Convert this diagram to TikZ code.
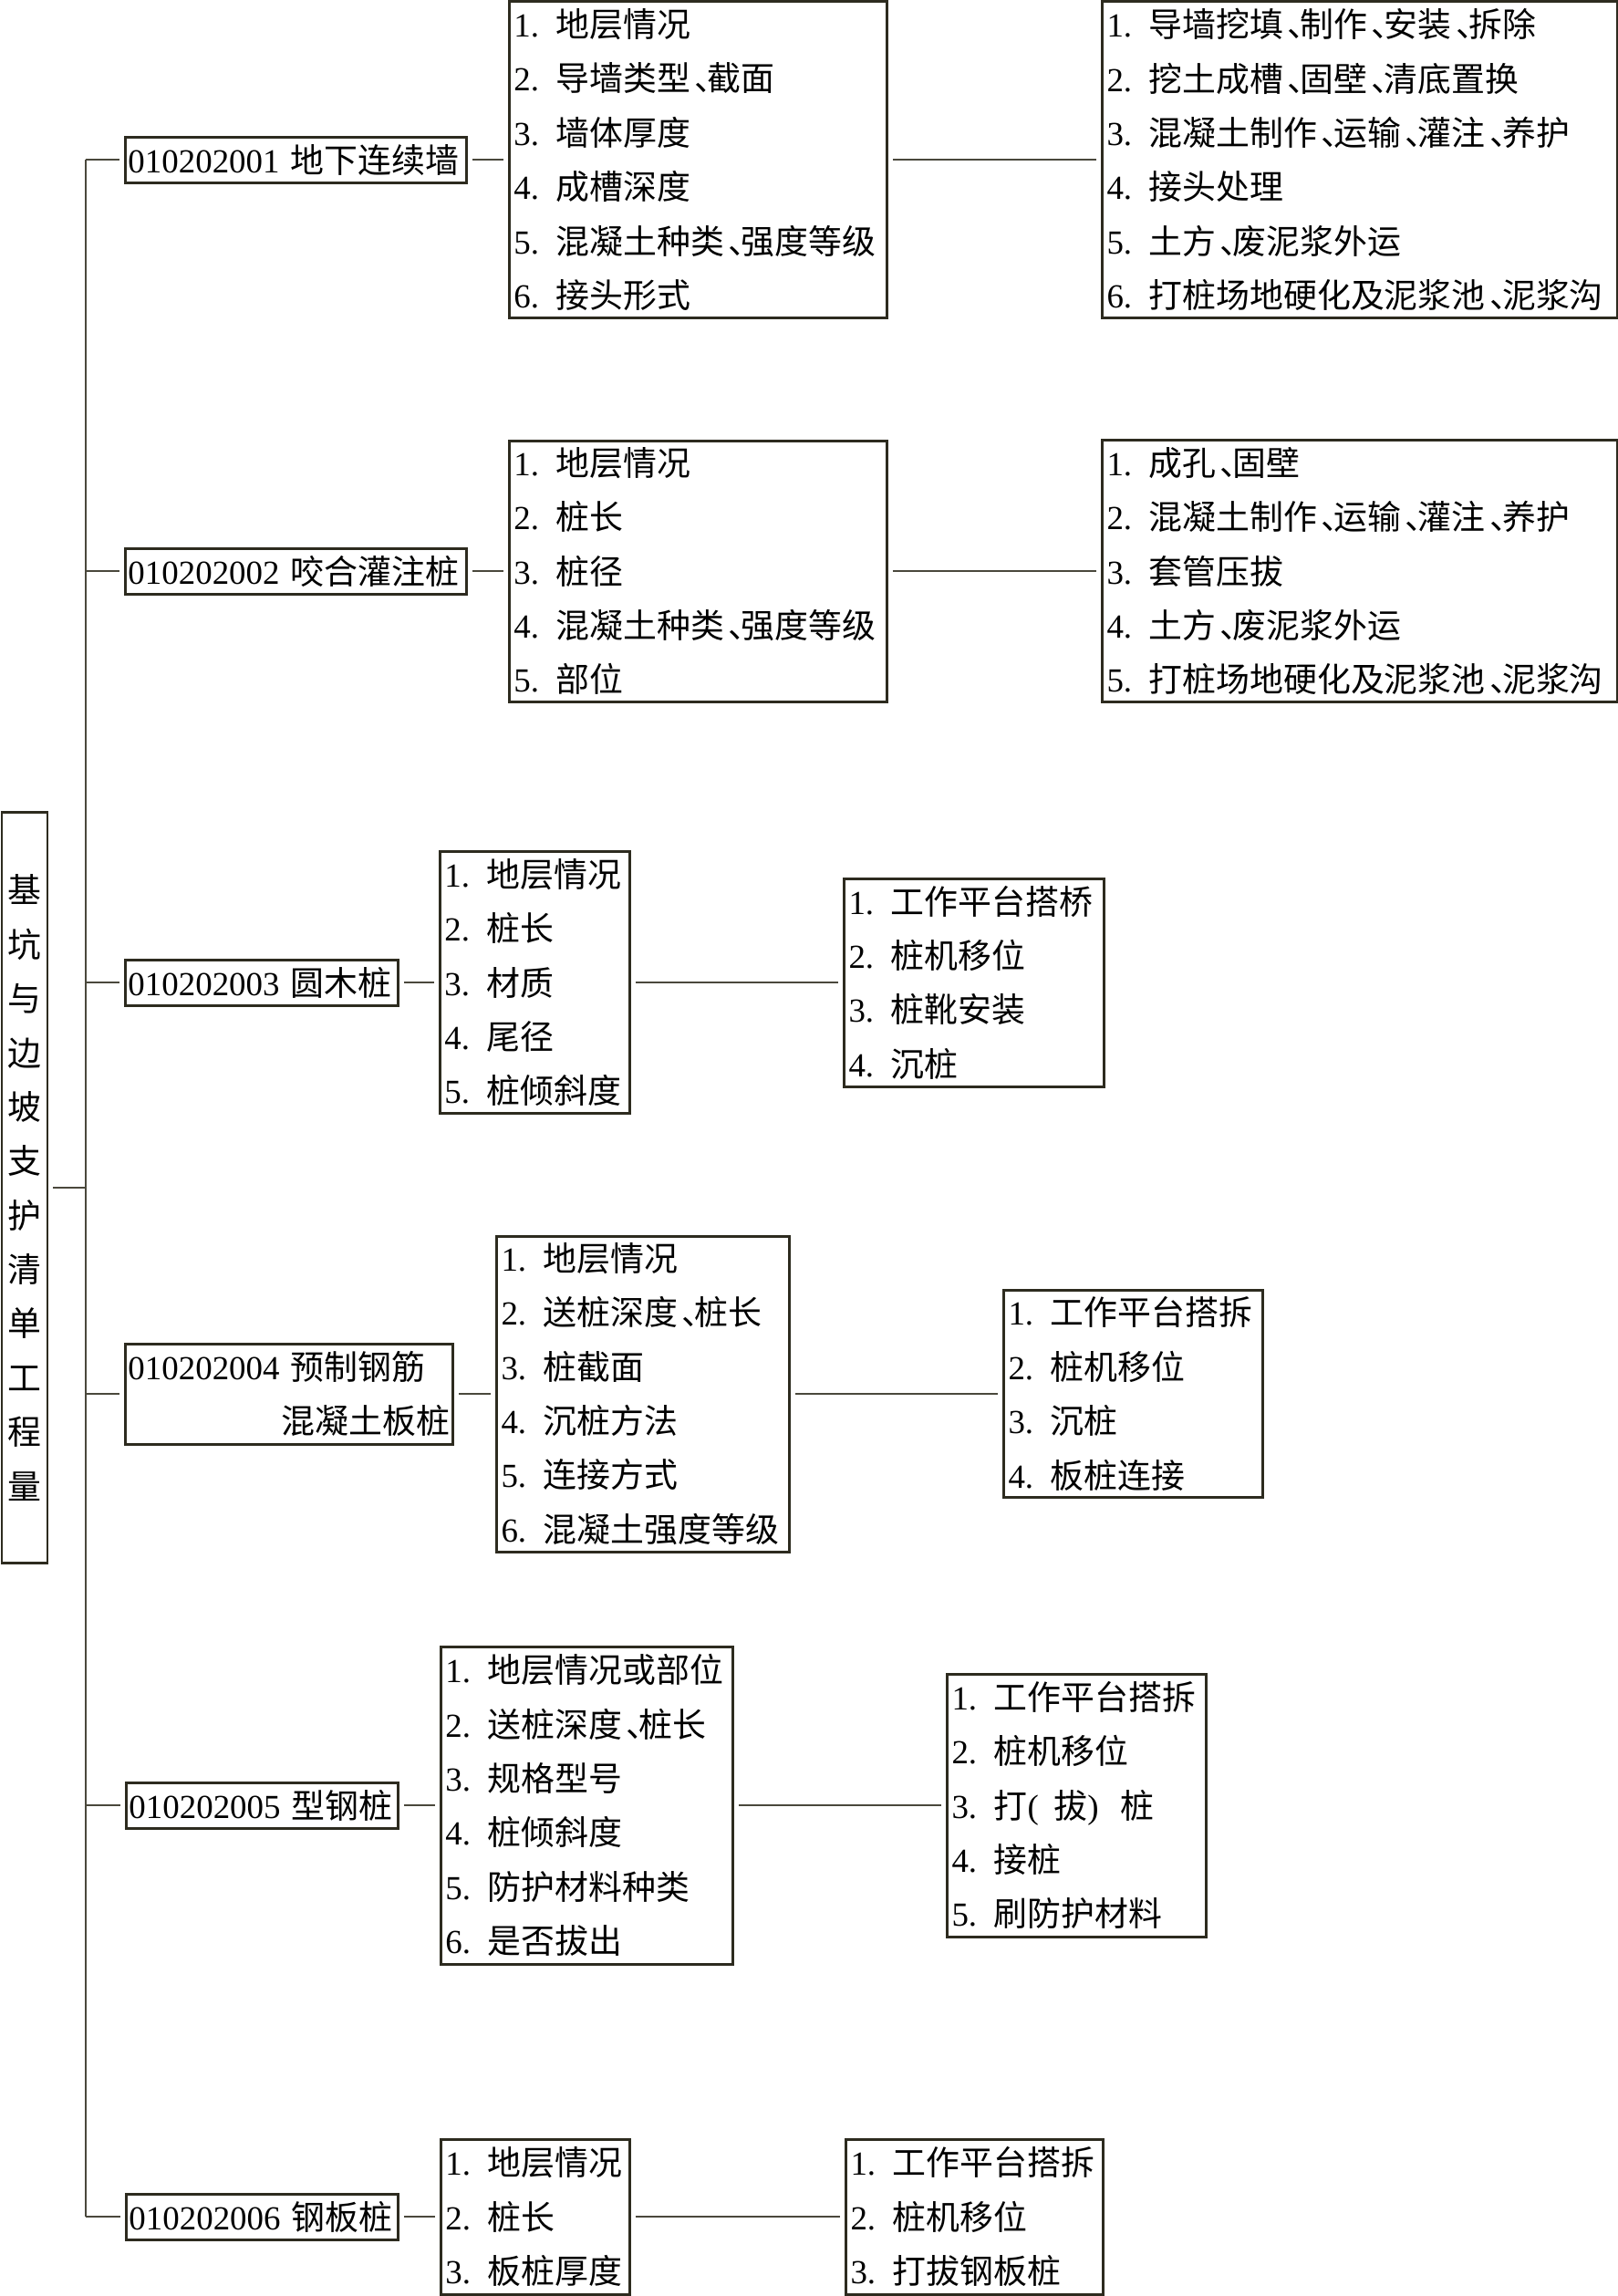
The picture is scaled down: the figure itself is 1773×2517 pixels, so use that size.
\documentclass[tikz,border=0pt]{standalone}
\usepackage{fontspec}
\setmainfont{Liberation Serif}
\newfontfamily\cjk{Noto Sans CJK SC}
% Chinese characters switch to \cjk by themselves
\XeTeXinterchartokenstate=1
\newXeTeXintercharclass\cjkclass
\count255="4E00
\loop\ifnum\count255<"A000
  \XeTeXcharclass\count255=\cjkclass
  \advance\count255 by 1
\repeat
\XeTeXcharclass"3001=\cjkclass
\XeTeXinterchartoks 0 \cjkclass={\begingroup\cjk}
\XeTeXinterchartoks 4095 \cjkclass={\begingroup\cjk}
\XeTeXinterchartoks \cjkclass 0={\endgroup}
\XeTeXinterchartoks \cjkclass 4095={\endgroup}
\newcommand{\dunhao}{\kern.12em、\kern-.62em}
\definecolor{boxline}{HTML}{2D2B1F}
\definecolor{linkline}{HTML}{4A483C}
\tikzset{
  listbox/.style={draw=boxline,line width=0.85pt,inner xsep=0.5mm,inner ysep=0pt,
    anchor=west,align=left,font=\fontsize{10.5}{16.9}\selectfont},
  itembox/.style={listbox,inner xsep=0.3mm,minimum height=5mm},
  branch/.style={draw=linkline,line width=0.45pt,shorten <=0.5mm,shorten >=0.5mm}
}

\begin{document}
\begin{tikzpicture}[x=0.1mm,y=-0.1mm]
  \useasboundingbox (0,0) rectangle (1773,2517);

  \node[listbox,anchor=center,align=center,minimum width=5mm,minimum height=82.3mm] (root)
    at (27,1302) {基\\坑\\与\\边\\坡\\支\\护\\清\\单\\工\\程\\量};

  \node[itembox,text width=36.8mm] (item1) at (136,175) {010202001~地下连续墙};
  \node[itembox,text width=36.8mm] (item2) at (136,626) {010202002~咬合灌注桩};
  \node[itembox,text width=29.3mm] (item3) at (136,1077) {010202003~圆木桩};
  \node[itembox,text width=35.3mm,minimum height=11mm] (item4) at (136,1528)
    {010202004~预制钢筋\\\hspace*{\fill}混凝土板桩};
  \node[itembox,text width=29.2mm] (item5) at (137,1979) {010202005~型钢桩};
  \node[itembox,text width=29.2mm] (item6) at (137,2430) {010202006~钢板桩};

  \node[listbox,text width=40.4mm,minimum height=34.7mm] (feat1) at (557,175)
    {1.\enspace 地层情况\\2.\enspace 导墙类型\dunhao 截面\\3.\enspace 墙体厚度\\
     4.\enspace 成槽深度\\5.\enspace 混凝土种类\dunhao 强度等级\\6.\enspace 接头形式};
  \node[listbox,text width=55.5mm,minimum height=34.7mm] (work1) at (1207,175)
    {1.\enspace 导墙挖填\dunhao 制作\dunhao 安装\dunhao 拆除\\
     2.\enspace 挖土成槽\dunhao 固壁\dunhao 清底置换\\
     3.\enspace 混凝土制作\dunhao 运输\dunhao 灌注\dunhao 养护\\
     4.\enspace 接头处理\\5.\enspace 土方\dunhao 废泥浆外运\\
     6.\enspace 打桩场地硬化及泥浆池\dunhao 泥浆沟};

  \node[listbox,text width=40.4mm,minimum height=28.6mm] (feat2) at (557,626)
    {1.\enspace 地层情况\\2.\enspace 桩长\\3.\enspace 桩径\\
     4.\enspace 混凝土种类\dunhao 强度等级\\5.\enspace 部位};
  \node[listbox,text width=55.5mm,minimum height=28.7mm] (work2) at (1207,626)
    {1.\enspace 成孔\dunhao 固壁\\
     2.\enspace 混凝土制作\dunhao 运输\dunhao 灌注\dunhao 养护\\
     3.\enspace 套管压拔\\4.\enspace 土方\dunhao 废泥浆外运\\
     5.\enspace 打桩场地硬化及泥浆池\dunhao 泥浆沟};

  \node[listbox,text width=19.8mm,minimum height=28.7mm] (feat3) at (481,1077)
    {1.\enspace 地层情况\\2.\enspace 桩长\\3.\enspace 材质\\4.\enspace 尾径\\5.\enspace 桩倾斜度};
  \node[listbox,text width=27.5mm,minimum height=22.8mm] (work3) at (924,1077)
    {1.\enspace 工作平台搭桥\\2.\enspace 桩机移位\\3.\enspace 桩靴安装\\4.\enspace 沉桩};

  \node[listbox,text width=31.1mm,minimum height=34.6mm] (feat4) at (543,1528)
    {1.\enspace 地层情况\\2.\enspace 送桩深度\dunhao 桩长\\3.\enspace 桩截面\\
     4.\enspace 沉桩方法\\5.\enspace 连接方式\\6.\enspace 混凝土强度等级};
  \node[listbox,text width=27.4mm,minimum height=22.7mm] (work4) at (1099,1528)
    {1.\enspace 工作平台搭拆\\2.\enspace 桩机移位\\3.\enspace 沉桩\\4.\enspace 板桩连接};

  \node[listbox,text width=31.0mm,minimum height=34.8mm] (feat5) at (482,1979)
    {1.\enspace 地层情况或部位\\2.\enspace 送桩深度\dunhao 桩长\\3.\enspace 规格型号\\
     4.\enspace 桩倾斜度\\5.\enspace 防护材料种类\\6.\enspace 是否拔出};
  \node[listbox,text width=27.4mm,minimum height=28.8mm] (work5) at (1037,1979)
    {1.\enspace 工作平台搭拆\\2.\enspace 桩机移位\\3.\enspace 打(\kern.45em 拔)\kern.65em 桩\\
     4.\enspace 接桩\\5.\enspace 刷防护材料};

  \node[listbox,text width=19.7mm,minimum height=17mm] (feat6) at (482,2430)
    {1.\enspace 地层情况\\2.\enspace 桩长\\3.\enspace 板桩厚度};
  \node[listbox,text width=27.2mm,minimum height=17mm] (work6) at (926,2430)
    {1.\enspace 工作平台搭拆\\2.\enspace 桩机移位\\3.\enspace 打拔钢板桩};

  \coordinate (trunk) at (94,0);
  \draw[branch,shorten <=0pt,shorten >=0pt] (item1.west -| trunk) -- (item6.west -| trunk);
  \draw[branch,shorten >=0pt] (root) -- (root -| trunk);
  \foreach \i in {1,...,6}
  {
    \draw[branch,shorten <=0pt] (item\i.west -| trunk) -- (item\i);
    \draw[branch] (item\i) -- (feat\i);
    \draw[branch] (feat\i) -- (work\i);
  }
\end{tikzpicture}
\end{document}
